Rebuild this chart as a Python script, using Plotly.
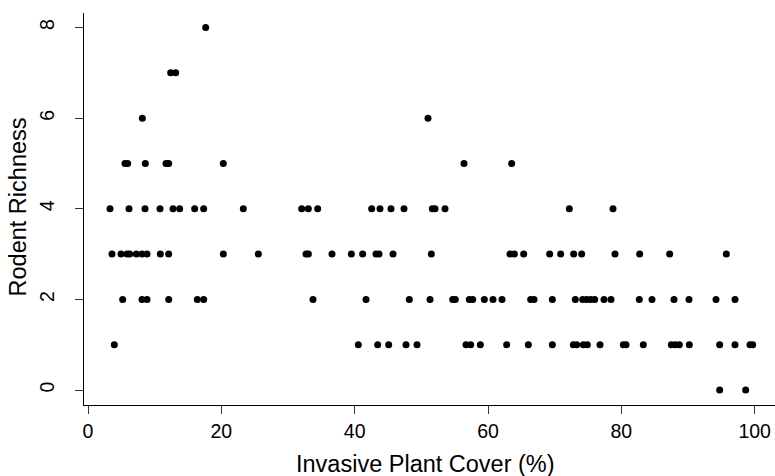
import plotly.graph_objects as go

# Invasive plant cover (%) of sites, grouped by rodent richness
richness_levels = [8, 7, 6, 5, 4, 3, 2, 1, 0]
cover_r8 = [17.65]
cover_r7 = [12.4, 13.15]
cover_r6 = [8.15, 51.0]
cover_r5 = [5.55, 5.95, 8.6, 11.7, 12.1, 20.3, 56.4, 63.55]
cover_r4 = [3.3, 6.15, 8.55, 10.8, 12.75, 13.75, 16.0, 17.35, 23.3, 32.05, 33.05,
            34.45, 42.55, 43.8, 45.45, 47.4, 51.65, 52.05, 53.55, 72.2, 78.75]
cover_r3 = [3.6, 4.95, 5.85, 6.25, 7.25, 8.1, 8.85, 10.85, 12.1, 20.3, 25.55, 32.7,
            33.05, 36.6, 39.5, 41.2, 43.2, 43.65, 45.75, 51.5, 63.3, 63.95, 65.35,
            69.25, 70.9, 72.85, 74.05, 79.05, 82.75, 87.25, 95.75]
cover_r2 = [5.2, 8.1, 8.85, 12.1, 16.4, 17.35, 33.75, 41.7, 48.2, 51.3, 54.7, 55.1,
            57.2, 57.7, 59.45, 60.75, 62.1, 66.4, 66.9, 69.65, 73.1, 74.2, 74.8,
            75.4, 76.0, 77.4, 78.45, 82.7, 84.6, 87.9, 90.15, 94.2, 97.05]
cover_r1 = [3.95, 40.55, 43.45, 45.1, 47.7, 49.35, 56.7, 57.4, 58.85, 62.8, 66.05,
            69.65, 72.8, 73.3, 74.3, 74.9, 76.8, 80.3, 80.7, 83.3, 87.5, 88.1, 88.7,
            90.2, 94.75, 97.05, 99.3, 99.7]
cover_r0 = [94.75, 98.65]

x_ticks = [0, 20, 40, 60, 80, 100]
y_ticks = [0, 2, 4, 6, 8]
x_title = "Invasive Plant Cover (%)"
y_title = "Rodent Richness"

groups = [cover_r8, cover_r7, cover_r6, cover_r5, cover_r4, cover_r3, cover_r2, cover_r1, cover_r0]
xs, ys = [], []
for lvl, covers in zip(richness_levels, groups):
    xs.extend(covers)
    ys.extend([lvl] * len(covers))

FONT = "Liberation Sans, Arial, Helvetica, sans-serif"

fig = go.Figure(go.Scatter(
    x=xs, y=ys, mode="markers",
    marker=dict(color="black", size=7, line=dict(width=0)),
    showlegend=False,
))

fig.update_layout(
    width=775, height=476,
    margin=dict(l=84, r=0, t=13, b=71),
    paper_bgcolor="white", plot_bgcolor="white",
    font=dict(family=FONT, color="black"),
    annotations=[
        dict(text=x_title, xref="paper", yref="paper", x=0.4935, y=-0.1505,
             xanchor="center", yanchor="middle", showarrow=False,
             font=dict(size=23.5, family=FONT, color="black")),
        dict(text=y_title, xref="paper", yref="paper", x=-0.0955, y=0.504,
             xanchor="center", yanchor="middle", showarrow=False, textangle=-90,
             font=dict(size=23.5, family=FONT, color="black")),
    ],
)
fig.update_xaxes(
    range=[-0.6, 103.05], tickvals=x_ticks, ticktext=[str(v) for v in x_ticks],
    showgrid=False, zeroline=False, showline=True, linecolor="black", linewidth=1,
    ticks="outside", ticklen=8, tickcolor="#333", tickwidth=1,
    tickfont=dict(size=19.5, family=FONT, color="black"), ticklabelstandoff=1,
)
fig.update_yaxes(
    range=[-0.331, 8.32], tickvals=y_ticks, ticktext=[str(v) for v in y_ticks],
    showgrid=False, zeroline=False, showline=True, linecolor="black", linewidth=1,
    ticks="outside", ticklen=8, tickcolor="#333", tickwidth=1, tickangle=-90,
    tickfont=dict(size=19.5, family=FONT, color="black"), ticklabelstandoff=13,
)

fig.write_html(
    "out.html",
    config={"displayModeBar": False},
    post_script="document.body.style.margin='0';document.body.style.overflow='hidden';",
)
